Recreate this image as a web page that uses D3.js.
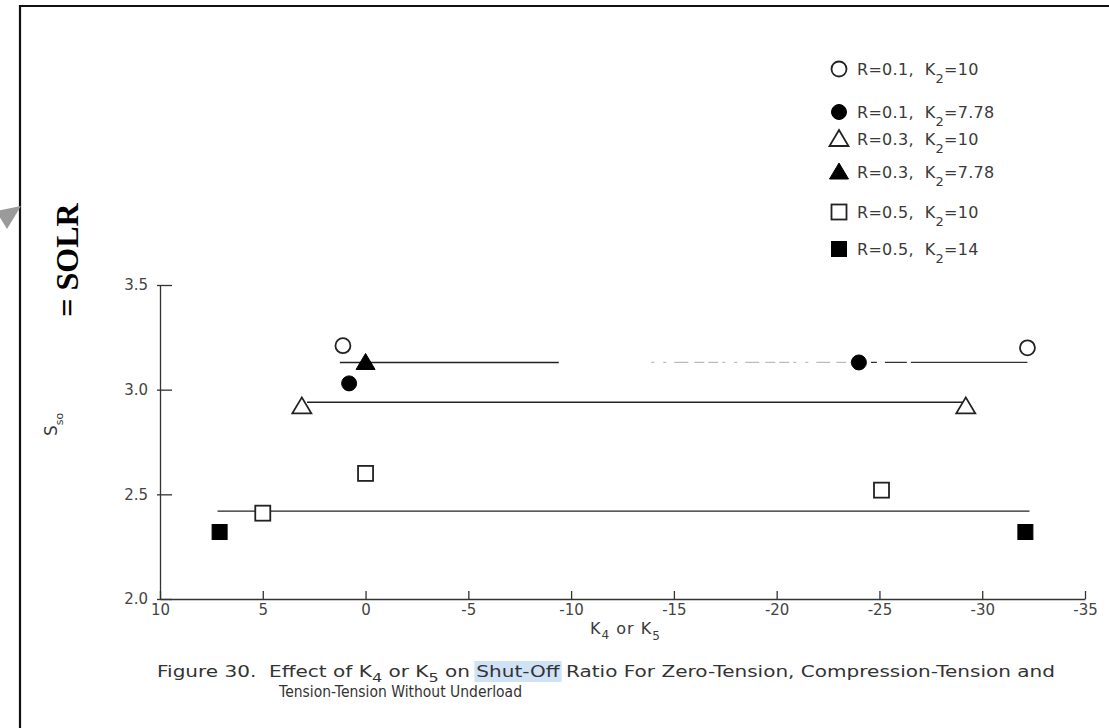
<!DOCTYPE html>
<html>
<head>
<meta charset="utf-8">
<script src="https://cdn.jsdelivr.net/npm/d3@7"></script>
<style>
  body { margin: 0; background: #fff; }
  svg text { font-family: "DejaVu Sans", sans-serif; fill: #3a3a3a; white-space: pre; }
  .axis text { font-size: 15px; fill: #444; }
  .axis path, .axis line { stroke: #333; stroke-width: 1.3; }
</style>
</head>
<body>
<div id="chart"></div>
<script>
const w = 1109,
      h = 728;

// series (legend order)
const rValues = ['0.1', '0.1', '0.3', '0.3', '0.5', '0.5'];
const k2Values = ['10', '7.78', '10', '7.78', '10', '14'];
const shapes = ['circle', 'circle', 'triangle', 'triangle', 'square', 'square'];
const filled = [false, true, false, true, false, true];
// K4 or K5 (x) and S_so (y) per series
const kValues = [[1.1, -32.2], [0.8, -24], [3.1, -29.2], [0], [5, 0, -25.1], [7.1, -32.1]];
const sValues = [[3.21, 3.20], [3.03, 3.13], [2.92, 2.92], [3.13], [2.41, 2.60, 2.52], [2.32, 2.32]];

// fitted horizontal lines
const lineLevels = [3.13, 2.94, 2.42];
const lineStarts = [1.25, 2.85, 7.2];
const lineEnds = [-32.2, -29.2, -32.3];
const lineGapFrom = [-9.4, null, null],
      lineGapTo = [-24, null, null];

const xTicks = [10, 5, 0, -5, -10, -15, -20, -25, -30, -35];
const yTicks = [2.0, 2.5, 3.0, 3.5];

const svg = d3.select('#chart').append('svg')
              .attr('width', w)
              .attr('height', h);

const x = d3.scaleLinear().domain([10, -35]).range([160, 1085]);
const y = d3.scaleLinear().domain([2.0, 3.5]).range([599, 285]);

// outer frame + arrow
svg.append('path').attr('d', `M20,${h} L20,6 L${w},6`)
   .attr('fill', 'none').attr('stroke', '#111').attr('stroke-width', 2.2);
svg.append('polygon').attr('points', '21,206 -4,211 7,229').attr('fill', '#9a9a9a');

// "= SOLR" annotation
svg.append('text')
   .attr('transform', 'translate(78,260) rotate(-90)')
   .attr('text-anchor', 'middle')
   .style('font-family', '"Liberation Serif", "Times New Roman", serif')
   .style('font-weight', 'bold').style('font-size', '32px').style('fill', '#000')
   .text('= SOLR');

// axes
const yAxis = d3.axisLeft(y).tickValues(yTicks).tickFormat(d3.format('.1f'))
                .tickSize(-12).tickSizeOuter(0).tickPadding(12);
svg.append('g').attr('class', 'axis').attr('transform', 'translate(160,0)').call(yAxis)
   .selectAll('.tick line').attr('x1', -3);

const xAxis = d3.axisBottom(x).tickValues(xTicks).tickFormat(d => String(d))
                .tickSize(-8).tickSizeOuter(0).tickPadding(5);
svg.append('g').attr('class', 'axis').attr('transform', 'translate(0,599)').call(xAxis);

// axis titles
const xt = svg.append('text').attr('x', 590).attr('y', 634)
              .style('font-size', '16px').style('letter-spacing', '1px');
xt.append('tspan').text('K');
xt.append('tspan').attr('dy', 5).style('font-size', '12px').text('4');
xt.append('tspan').attr('dy', -5).text(' or K');
xt.append('tspan').attr('dy', 6).style('font-size', '12px').text('5');

const yt = svg.append('text').attr('transform', 'translate(57,436) rotate(-90)').style('font-size', '17px');
yt.append('tspan').text('S');
yt.append('tspan').attr('dy', 6).style('font-size', '11px').text('so');

// fitted lines
const hline = (g, k0, k1, lv) => g.append('line')
    .attr('x1', x(k0)).attr('x2', x(k1)).attr('y1', y(lv)).attr('y2', y(lv));

lineLevels.forEach((lv, i) => {
    const g = svg.append('g');
    if (lineGapFrom[i] === null) {
        hline(g, lineStarts[i], lineEnds[i], lv).attr('stroke', '#222').attr('stroke-width', 1.4);
    } else {
        hline(g, lineStarts[i], lineGapFrom[i], lv).attr('stroke', '#222').attr('stroke-width', 1.4);
        hline(g, lineGapFrom[i] - 4.5, lineGapTo[i], lv)
            .attr('stroke', '#bbb').attr('stroke-width', 1.2).attr('stroke-dasharray', '3,9,3,8,14,6,10,4,10,4');
        hline(g, lineGapTo[i], lineEnds[i], lv)
            .attr('stroke', '#333').attr('stroke-width', 1.3).attr('stroke-dasharray', '0,12,6,8,22,4,200');
    }
});

// markers
const drawMarker = (sel, shape, isFilled, cx, cy) => {
    let m;
    if (shape === 'circle') {
        m = sel.append('circle').attr('cx', cx).attr('cy', cy).attr('r', 7.5);
    } else if (shape === 'triangle') {
        m = sel.append('path').attr('d', `M${cx},${cy - 9} L${cx + 9.5},${cy + 7} L${cx - 9.5},${cy + 7} Z`);
    } else {
        m = sel.append('rect').attr('x', cx - 7.5).attr('y', cy - 7.5).attr('width', 15).attr('height', 15);
    }
    m.attr('fill', isFilled ? '#000' : '#fff')
     .attr('stroke', isFilled ? '#000' : '#222')
     .attr('stroke-width', isFilled ? 1 : 1.8);
};

const pts = svg.append('g');
shapes.forEach((shape, i) => {
    kValues[i].forEach((k, j) => {
        drawMarker(pts, shape, filled[i], x(k), y(sValues[i][j]));
    });
});

// legend
const legendY = [69, 112, 139, 172, 212, 249];
const legend = svg.append('g');
shapes.forEach((shape, i) => {
    drawMarker(legend, shape, filled[i], 839, legendY[i]);
    const t = legend.append('text').attr('x', 857).attr('y', legendY[i] + 6)
                    .style('font-size', '16px').style('letter-spacing', '0.3px');
    t.append('tspan').text(`R=${rValues[i]},  K`);
    t.append('tspan').attr('dy', 8).style('font-size', '13px').text('2');
    t.append('tspan').attr('dy', -8).text(`=${k2Values[i]}`);
});

// caption
const cap = svg.append('text').attr('x', 157).attr('y', 677).style('font-size', '15px').style('fill', '#333');
cap.append('tspan').text('Figure 30.  Effect of K');
cap.append('tspan').attr('dy', 5).style('font-size', '12px').text('4');
cap.append('tspan').attr('dy', -5).text(' or K');
cap.append('tspan').attr('dy', 5).style('font-size', '12px').text('5');
cap.append('tspan').attr('dy', -5).text(' on ');
cap.append('tspan').text('Shut-Off');
cap.append('tspan').text(' Ratio For Zero-Tension, Compression-Tension and');
cap.attr('textLength', 898).attr('lengthAdjust', 'spacingAndGlyphs');

// highlight behind "Shut-Off"
const capNode = cap.node();
const full = capNode.textContent;
const i0 = full.indexOf('Shut-Off'), i1 = i0 + 'Shut-Off'.length - 1;
const hx0 = capNode.getStartPositionOfChar(i0).x,
      hx1 = capNode.getEndPositionOfChar(i1).x;
svg.insert('rect', 'text').attr('x', hx0 - 2).attr('y', 661).attr('width', hx1 - hx0 + 4).attr('height', 21)
   .attr('fill', '#cfe2f6');

svg.append('text').attr('x', 279).attr('y', 697).style('font-size', '15px').style('fill', '#333')
   .attr('textLength', 243).attr('lengthAdjust', 'spacingAndGlyphs')
   .text('Tension-Tension Without Underload');
</script>
</body>
</html>
